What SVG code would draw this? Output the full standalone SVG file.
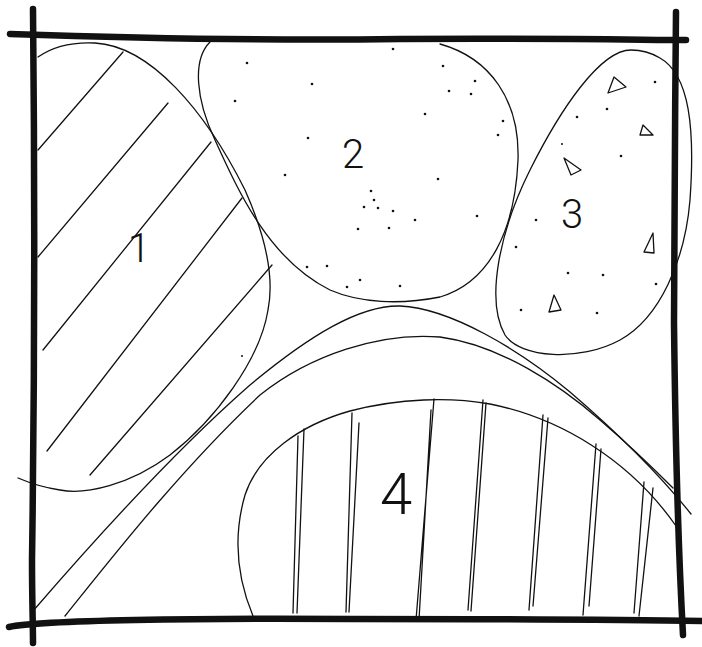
<svg xmlns="http://www.w3.org/2000/svg" width="702" height="647" viewBox="0 0 702 647">
<style>
.thin{fill:none;stroke:#111;stroke-width:1.3;stroke-linecap:round;stroke-linejoin:round}
.frame{fill:none;stroke:#111;stroke-width:6.5;stroke-linecap:round}
.dot{fill:#111}
.num{font-family:Roboto,"Liberation Sans",sans-serif;font-weight:300;fill:#111;text-anchor:middle}
</style>
<rect width="702" height="647" fill="#fff"/>
<g id="region1">
<path class="thin" d="M38,57 C55,45 75,42 95,43 C150,46 205,110 245,190 C265,235 275,275 268,310 C260,360 215,420 170,455 C130,485 85,495 60,490 C40,487 25,481 18,478"/>
<path class="thin" d="M38,150 L123,52 M38,257 L168,103 M43,350 L211,142 M47,451 L242,198 M90,475 L272,265"/>
<text class="num" x="139" y="262" font-size="41">1</text>
</g>
<g id="region2">
<path class="thin" d="M210,42 C192,60 196,100 215,140 C240,195 270,260 330,290 C360,303 400,305 440,297 C490,282 515,230 518,160 C520,100 490,58 440,44"/>
<g class="dot">
<circle cx="393" cy="49" r="1.3"/><circle cx="443" cy="66" r="1.3"/><circle cx="475" cy="81" r="1.3"/><circle cx="449" cy="91" r="1.3"/><circle cx="471" cy="94" r="1.3"/><circle cx="425" cy="114" r="1.3"/><circle cx="503" cy="121" r="1.3"/><circle cx="498" cy="135" r="1.3"/><circle cx="438" cy="179" r="1.3"/><circle cx="371" cy="191" r="1.3"/><circle cx="374" cy="200" r="1.3"/><circle cx="364" cy="207" r="1.3"/><circle cx="378" cy="208" r="1.3"/><circle cx="393" cy="211" r="1.3"/><circle cx="415" cy="220" r="1.3"/><circle cx="477" cy="216" r="1.3"/><circle cx="358" cy="229" r="1.3"/><circle cx="389" cy="228" r="1.3"/><circle cx="360" cy="280" r="1.3"/><circle cx="400" cy="286" r="1.3"/><circle cx="247" cy="63" r="1.3"/><circle cx="312" cy="84" r="1.3"/><circle cx="235" cy="101" r="1.3"/><circle cx="308" cy="138" r="1.3"/><circle cx="285" cy="175" r="1.3"/><circle cx="307" cy="267" r="1.3"/><circle cx="327" cy="266" r="1.3"/><circle cx="347" cy="287" r="1.3"/>
</g>
<text class="num" x="353" y="168" font-size="40">2</text>
</g>
<g id="region3">
<path class="thin" d="M631,50 C600,50 560,110 530,170 C500,230 485,300 505,335 C520,358 580,362 620,340 C660,318 685,260 690,200 C695,130 690,75 660,58 C650,52 640,50 631,50 Z"/>
<g class="dot">
<circle cx="655" cy="82" r="1.3"/><circle cx="607" cy="109" r="1.3"/><circle cx="577" cy="117" r="1.3"/><circle cx="562" cy="144" r="1"/><circle cx="621" cy="156" r="1.3"/><circle cx="536" cy="220" r="1.3"/><circle cx="516" cy="247" r="1.3"/><circle cx="568" cy="273" r="1.3"/><circle cx="603" cy="275" r="1.3"/><circle cx="656" cy="284" r="1.3"/><circle cx="521" cy="310" r="1.3"/><circle cx="597" cy="313" r="1.3"/>
</g>
<path class="thin" d="M614,77 L626,87 L608,93 Z M643,125 L653,135 L640,135 Z M564,158 L581,170 L571,175 Z M653,233 L654,253 L644,252 Z M554,295 L561,310 L549,312 Z"/>
<text class="num" x="572" y="228" font-size="40">3</text>
</g>
<g id="region4">
<path class="thin" d="M253,616 C238,580 232,540 245,495 C258,455 300,425 350,411 C400,398 450,397 490,404 C560,418 630,460 676,526"/>
<path class="thin" d="M298,436 L293,613 M304,429 L297,613 M352,413 L346,612 M359,423 L349,612 M434,399 L416,620 M431,410 L419,620 M483,400 L468,610 M486,403 L471,611 M543,415 L529,610 M548,418 L533,606 M596,444 L583,615 M601,449 L589,606 M644,482 L634,613 M653,488 L639,616"/>
<text class="num" x="396" y="514" font-size="58">4</text>
</g>
<g id="road">
<path class="thin" d="M33,611 C90,545 170,455 250,385 C310,335 360,305 400,306 C450,308 520,350 570,392 C620,435 660,475 691,514"/>
<path class="thin" d="M65,616 C110,560 180,470 260,395 C310,355 380,332 440,337 C500,345 560,385 600,420 C635,450 655,470 673,488"/>
</g>
<g id="frame">
<path class="frame" d="M10,34 C100,37 250,41 400,39 C550,38 650,40 686,40"/>
<path class="frame" d="M33,9 C35,200 34,420 32,560 C32,600 33,625 33,643"/>
<path class="frame" d="M9,627 C40,620 200,618 350,619 C500,619 600,619 702,621"/>
<path class="frame" d="M676,12 C675,120 674,250 674,323 C676,500 680,580 683,635"/>
</g>
<circle class="dot" cx="242" cy="356" r="1"/>
</svg>
